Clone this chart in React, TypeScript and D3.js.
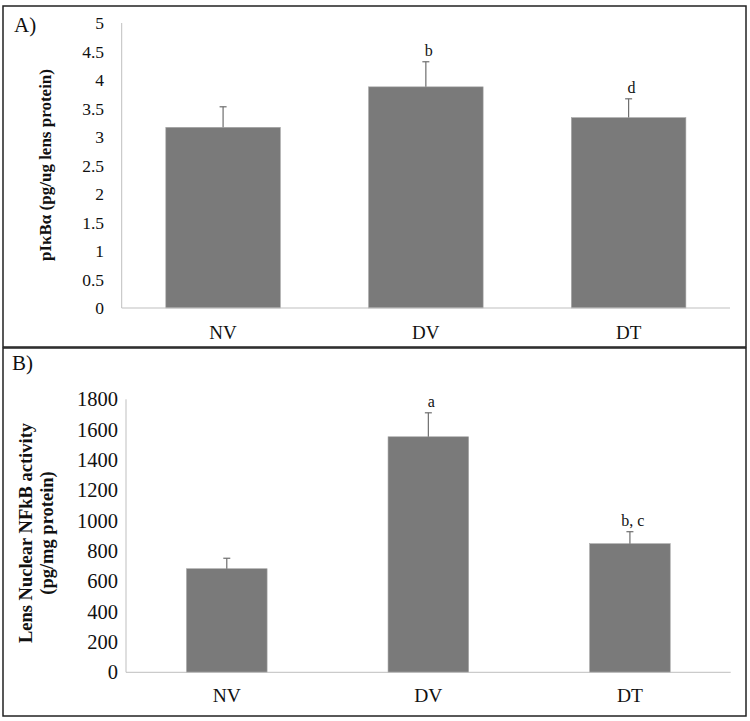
import React from "react";
import * as d3 from "d3";

const categories = ["NV", "DV", "DT"];

const seriesA = [3.17, 3.88, 3.34];
const errorsA = [0.36, 0.44, 0.33];
const lettersA = ["", "b", "d"];
const ticksA = [0, 0.5, 1, 1.5, 2, 2.5, 3, 3.5, 4, 4.5, 5];

const seriesB = [683, 1553, 848];
const errorsB = [69, 158, 79];
const lettersB = ["", "a", "b, c"];
const ticksB = [0, 200, 400, 600, 800, 1000, 1200, 1400, 1600, 1800];

const FONT = "'Liberation Serif', 'Times New Roman', serif";
const BAR = "#7a7a7a";
const AXIS = "#bfbfbf";

type PanelProps = {
  label: string;
  box: [number, number, number, number];
  xRange: [number, number];
  yRange: [number, number];
  yMax: number;
  values: number[];
  errors: number[];
  letters: string[];
  ticks: number[];
  padding: number;
  tickRight: number;
  tickSize: number;
  xLabelY: number;
  xLabelSize: number;
  labelPos: [number, number];
  titleLines: string[];
  titleX: number[];
  titleY: number;
  titleSize: number;
};

function Panel(p: PanelProps) {
  const x = d3.scaleBand<string>().domain(categories).range(p.xRange).paddingInner(p.padding).paddingOuter(p.padding / 2);
  const y = d3.scaleLinear().domain([0, p.yMax]).range(p.yRange);
  const [bx, by, bw, bh] = p.box;
  return (
    <g>
      <rect x={bx} y={by} width={bw} height={bh} fill="#fff" stroke="#222" strokeWidth={1.5} />
      <text x={p.labelPos[0]} y={p.labelPos[1]} fontFamily={FONT} fontSize={21} fill="#111">{p.label}</text>
      <line x1={p.xRange[0]} x2={p.xRange[0]} y1={y(0)} y2={y(p.yMax)} stroke={AXIS} strokeWidth={1} />
      {p.ticks.map((t) => (
        <text key={t} x={p.tickRight} y={y(t)} dy="0.35em" textAnchor="end" fontFamily={FONT} fontSize={p.tickSize} fill="#111">
          {t}
        </text>
      ))}
      {categories.map((c, i) => {
        const x0 = x(c)!;
        const cx = x0 + x.bandwidth() / 2;
        const top = y(p.values[i]);
        const etop = y(p.values[i] + p.errors[i]);
        return (
          <g key={c}>
            <rect x={x0} y={top} width={x.bandwidth()} height={y(0) - top} fill={BAR} stroke="#a8a8a8" strokeWidth={0.6} />
            <line x1={cx} x2={cx} y1={top} y2={etop} stroke="#6e6e6e" strokeWidth={1.2} />
            <line x1={cx - 3.5} x2={cx + 3.5} y1={etop} y2={etop} stroke="#6e6e6e" strokeWidth={1.2} />
            {p.letters[i] && (
              <text x={cx + 3} y={etop - 6} textAnchor="middle" fontFamily={FONT} fontSize={16} fill="#111">
                {p.letters[i]}
              </text>
            )}
            <text x={cx} y={p.xLabelY} dy="0.35em" textAnchor="middle" fontFamily={FONT} fontSize={p.xLabelSize} fill="#111">
              {c}
            </text>
          </g>
        );
      })}
      <line x1={p.xRange[0]} x2={p.xRange[1]} y1={y(0)} y2={y(0)} stroke={AXIS} strokeWidth={1} />
      {p.titleLines.map((t, i) => (
        <text
          key={i}
          transform={`translate(${p.titleX[i]},${p.titleY}) rotate(-90)`}
          dy="0.35em"
          textAnchor="middle"
          fontFamily={FONT}
          fontWeight="bold"
          fontSize={p.titleSize}
          fill="#111"
        >
          {t}
        </text>
      ))}
    </g>
  );
}

export default function App() {
  return (
    <svg width={750} height={721} style={{ position: "absolute", left: 0, top: 0, background: "#fff" }}>
      <rect x={0} y={0} width={750} height={721} fill="#fff" />
      <Panel
        label="A)"
        box={[3, 6, 743, 341]}
        xRange={[121.7, 730]}
        yRange={[308, 23]}
        yMax={5}
        values={seriesA}
        errors={errorsA}
        letters={lettersA}
        ticks={ticksA}
        padding={0.435}
        tickRight={104}
        tickSize={17.5}
        xLabelY={332}
        xLabelSize={19}
        labelPos={[14, 32]}
        titleLines={["pIκBα (pg/ug lens protein)"]}
        titleX={[45]}
        titleY={165}
        titleSize={17}
      />
      <Panel
        label="B)"
        box={[3, 348, 743, 368]}
        xRange={[126, 730.7]}
        yRange={[672.3, 399.3]}
        yMax={1800}
        values={seriesB}
        errors={errorsB}
        letters={lettersB}
        ticks={ticksB}
        padding={0.6}
        tickRight={118}
        tickSize={20.5}
        xLabelY={695}
        xLabelSize={19.5}
        labelPos={[12, 370]}
        titleLines={["Lens Nuclear NFkB activity", "(pg/mg protein)"]}
        titleX={[26, 47]}
        titleY={533}
        titleSize={18.5}
      />
    </svg>
  );
}
